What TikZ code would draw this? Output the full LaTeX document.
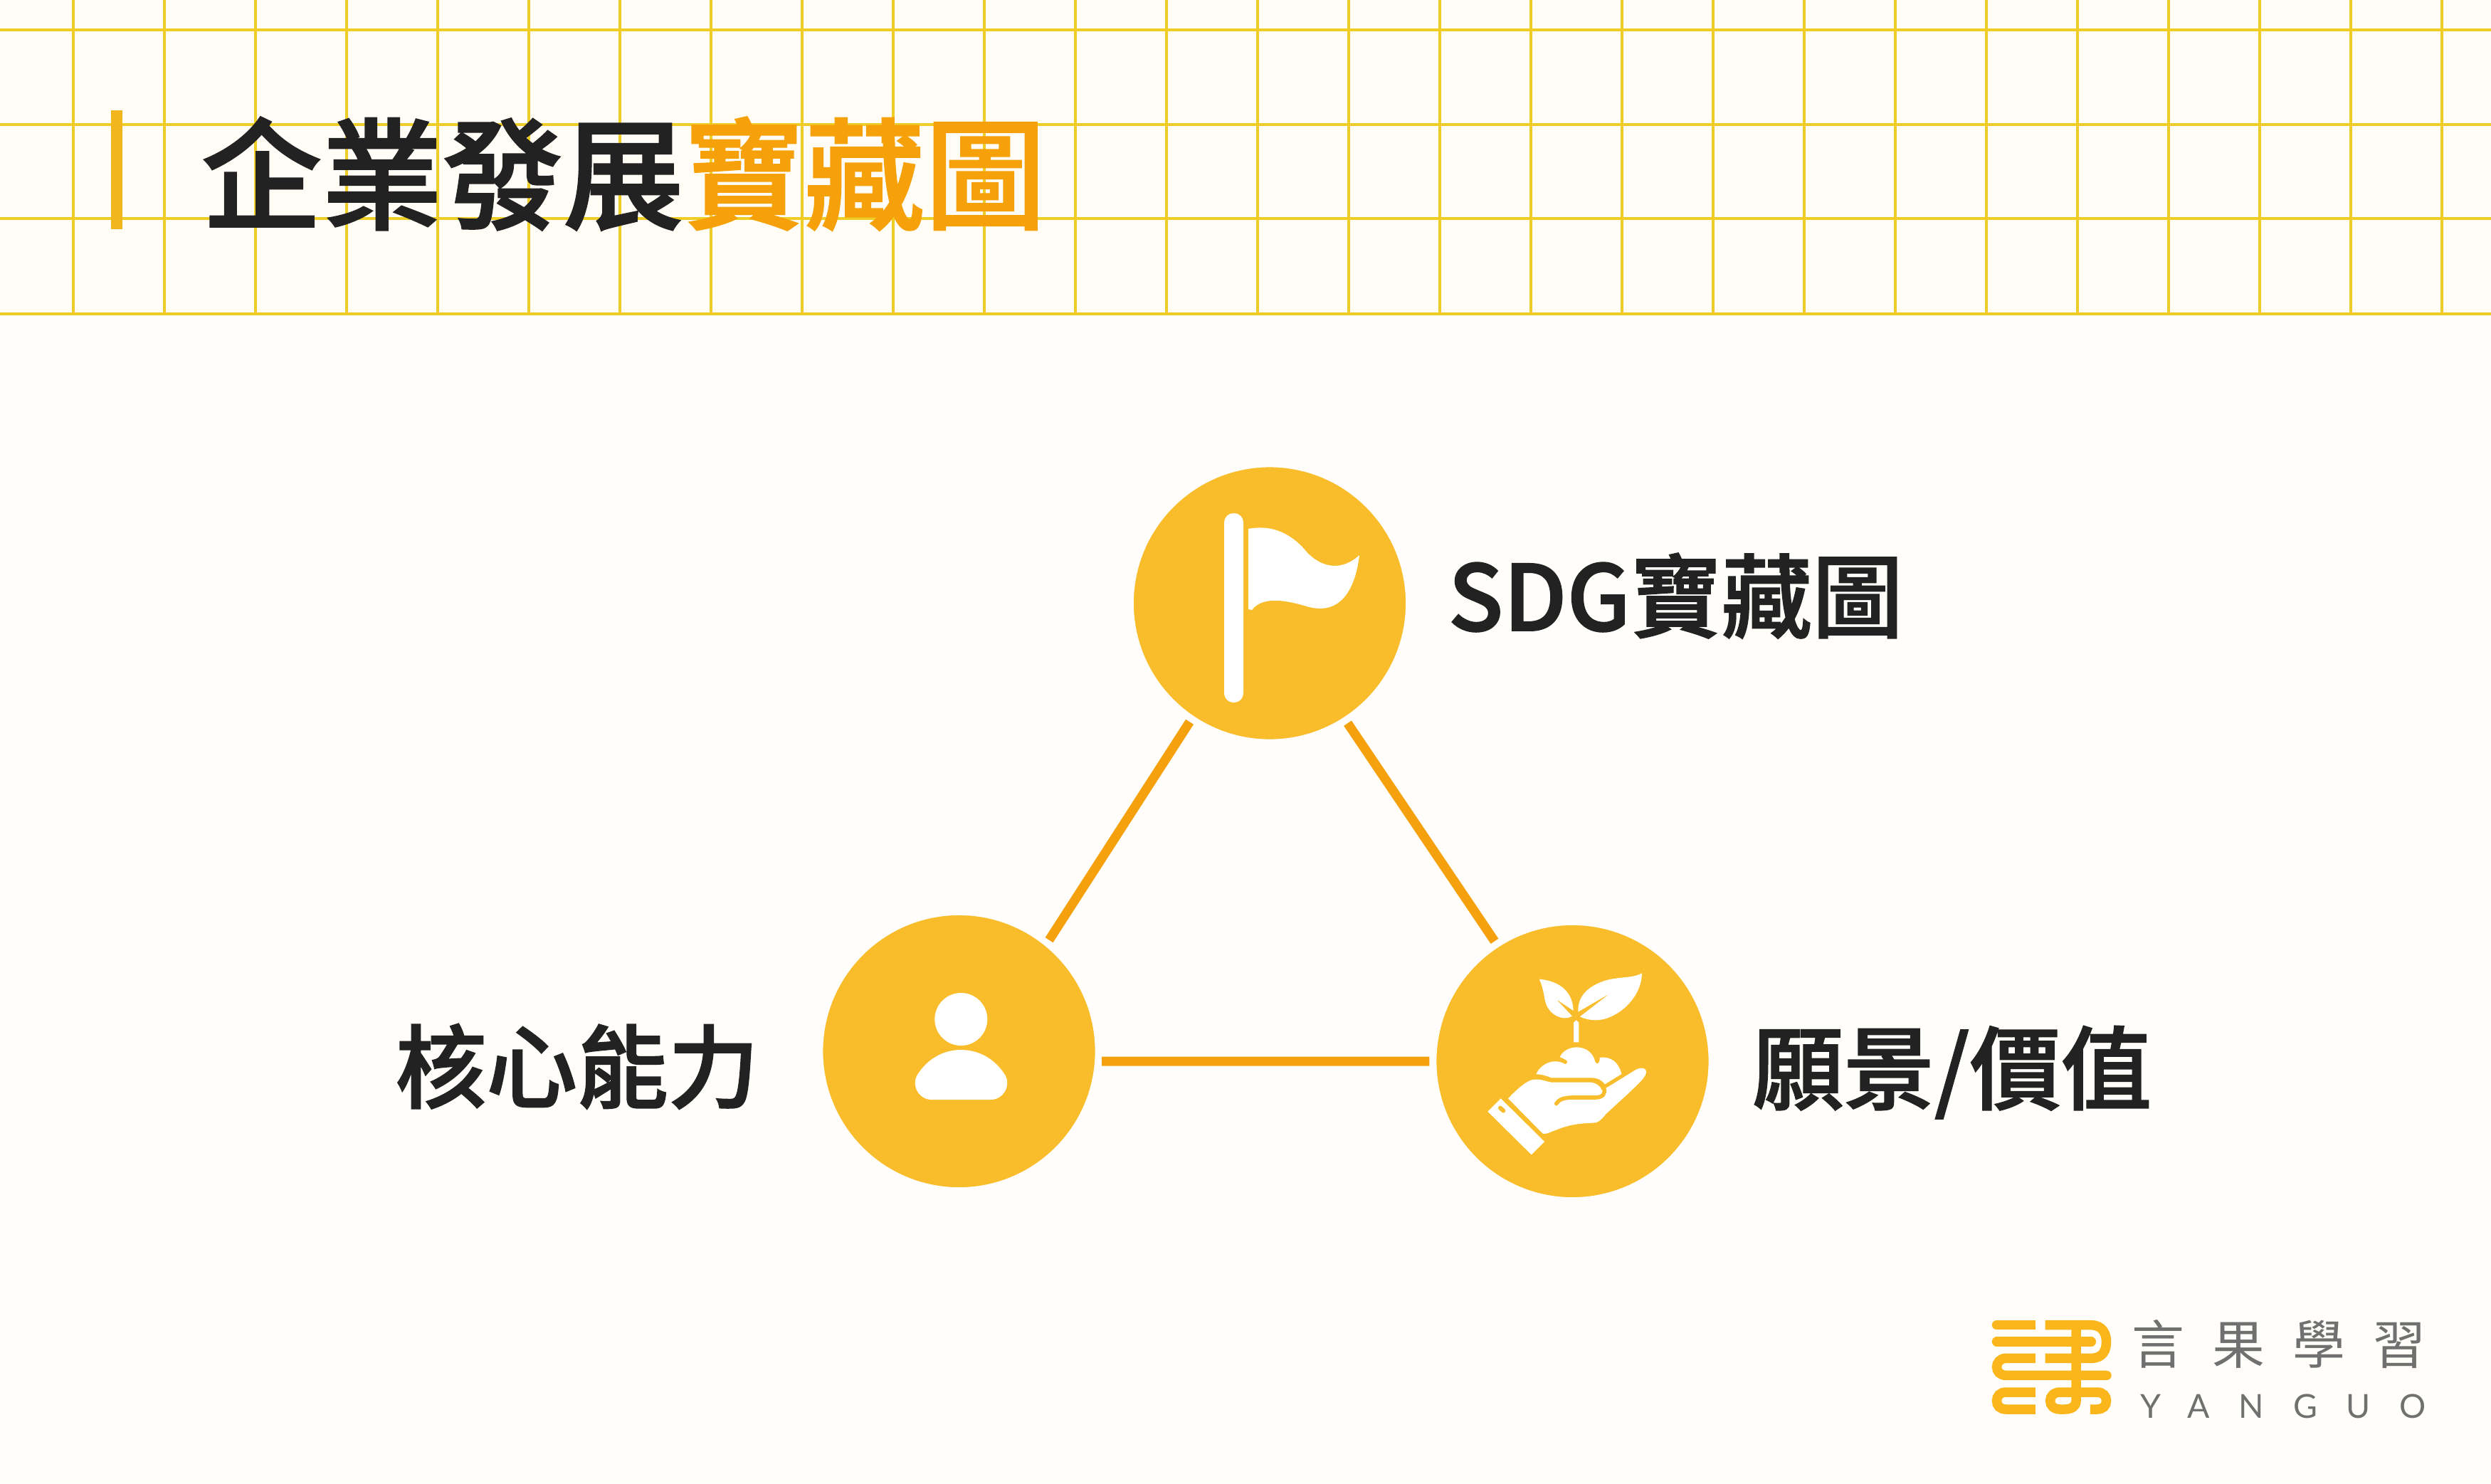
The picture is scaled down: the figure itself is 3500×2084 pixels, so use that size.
\documentclass[tikz,border=0pt]{standalone}
\usepackage{fontspec}
\setmainfont{Noto Sans CJK TC}
\newfontfamily\medfont[FakeBold=1.5]{Noto Sans CJK TC Medium}
\newfontfamily\logofont{Lato}
\definecolor{pagebg}{HTML}{FFFEFA}
\definecolor{headbg}{HTML}{FFFDF6}
\definecolor{gridline}{HTML}{F0CD25}
\definecolor{barcol}{HTML}{F3B51E}
\definecolor{titleorange}{HTML}{F6A00A}
\definecolor{inkcol}{HTML}{222222}
\definecolor{circcol}{HTML}{F9BD2B}
\definecolor{halocol}{HTML}{FFFEFC}
\definecolor{linkcol}{HTML}{F5A10D}
\definecolor{logoorange}{HTML}{FBB61C}
\definecolor{logogrey}{HTML}{707070}
\tikzset{
	bubble/.style={circle, fill=circcol, draw=halocol, line width=0.1cm, inner sep=0pt, minimum size=3.92cm},
	link/.style={draw=linkcol, line width=0.13cm},
	tag/.style={anchor=base west, inner sep=0pt, text=inkcol, font=\medfont\fontsize{36.3pt}{40pt}\selectfont},
	logostroke/.style={draw=logoorange, line width=0.135cm}
}
\begin{document}
\begin{tikzpicture}[x=0.01cm, y=-0.01cm]
	\useasboundingbox (0,0) rectangle (3500,2084);
	% Nền
	\fill[pagebg] (0,0) rectangle (3500,2084);
	\fill[headbg] (0,0) rectangle (3500,440);
	% Lưới
	\foreach \gx in {0,...,26}
		\draw[gridline, line width=0.04cm] ({103+128*\gx},0) -- ({103+128*\gx},441);
	\foreach \gy in {42,175,307,441}
		\draw[gridline, line width=0.04cm] (0,\gy) -- (3500,\gy);
	% Tiêu đề
	\fill[barcol] (156,155) rectangle (172,322);
	\node[anchor=base west, inner sep=0pt, text=inkcol, font=\medfont\fontsize{48.2pt}{50pt}\selectfont] (title) at (282,309) {企業發展\textcolor{titleorange}{寶藏圖}};
	% Ba vòng tròn
	\node[bubble] (flag) at (1784,847.5) {};
	\node[bubble] (person) at (1347.5,1477) {};
	\node[bubble] (seedling) at (2209.5,1491) {};
	% Đường nối
	\draw[link] (person.51.8) -- (flag.236.5);
	\draw[link] (flag.303.3) -- (seedling.123.6);
	\draw[link] (person.356.3) -- (seedling.180.3);
	% Nhãn
	\node[tag] (flagtag) at (2034,886) {SDG寶藏圖};
	\node[tag] (persontag) at (555,1547) {核心能力};
	\node[tag] (seedlingtag) at (2462,1549) {願景/價值};
	% Lá cờ
	\fill[white, rounded corners=0.13cm] (1720,721) rectangle (1747,987);
	\fill[white] (1754,743) .. controls (1785,737) and (1812,748) .. (1833,772) .. controls (1850,793) and (1880,807) .. (1910,780) .. controls (1906,815) and (1890,870) .. (1833,851) .. controls (1815,846) and (1775,835) .. (1759,857) -- (1754,856) -- cycle;
	% Người
	\fill[white] (1350.3,1432) circle[radius=37];
	\fill[white] (1309,1545) -- (1392,1545) .. controls (1410,1545) and (1421,1525) .. (1412,1510) .. controls (1398,1488) and (1376,1475) .. (1350,1475) .. controls (1325,1475) and (1303,1488) .. (1289,1510) .. controls (1280,1525) and (1291,1545) .. (1309,1545) -- cycle;
	% Bàn tay và mầm cây
	\begin{scope}[shift={(2000,1280)}, scale=0.3333]
		\fill[white] (488,287) .. controls (580,295) and (630,345) .. (632,420) -- (560,372) -- (627,443) .. controls (590,465) and (525,440) .. (512,375) .. controls (507,345) and (500,310) .. (488,287) -- cycle;
		\fill[white] (921,262) .. controls (920,350) and (850,420) .. (790,445) .. controls (750,465) and (700,465) .. (660,445) -- (785,348) -- (652,425) .. controls (650,360) and (690,320) .. (760,295) .. controls (820,275) and (880,285) .. (921,262) -- cycle;
		\fill[white] (633,553) -- (655,553) -- (655,470) -- (644,460) -- (633,470) -- cycle;
		\fill[white] (475,688) .. controls (490,650) and (545,615) .. (597,645) .. controls (607,645) and (610,632) .. (600,627) -- (575,615) .. controls (600,560) and (705,555) .. (724,635) .. controls (728,648) and (745,648) .. (743,618) .. controls (790,610) and (825,640) .. (835,687) -- (765,730) .. controls (745,705) and (725,703) .. (705,703) -- (540,703) .. controls (520,695) and (500,688) .. (475,688) -- cycle;
		\fill[white] (357,790) .. controls (400,745) and (440,710) .. (470,710) .. controls (500,708) and (520,720) .. (540,722) -- (705,722) .. controls (730,725) and (748,740) .. (752,755) -- (772,745) -- (890,672) .. controls (915,655) and (945,660) .. (938,685) .. controls (930,710) and (900,735) .. (770,855) .. controls (745,885) and (735,893) .. (715,893) .. controls (620,895) and (580,915) .. (540,930) .. controls (525,937) and (515,940) .. (503,938) -- cycle;
		\draw[circcol, line width=0.055cm, line cap=round] (560,812) .. controls (570,795) and (590,787) .. (625,786) -- (725,786) .. controls (755,786) and (770,770) .. (760,745);
		\fill[white] (326,790) -- (510,972) -- (455,1027) -- (271,845) -- cycle;
		\draw[circcol, line width=0.06cm, line cap=round] (324,830) -- (337,842);
	\end{scope}
	% Logo
	\begin{scope}[shift={(2760,1820)}, xscale=0.4337, yscale=0.3333]
		\draw[logostroke] (105,125) -- (230,125);
		\draw[logostroke] (262,125) -- (410,125) .. controls (450,125) and (460,165) .. (460,195) .. controls (460,230) and (450,265) .. (410,265) -- (262,265);
		\draw[logostroke] (105,195) -- (410,195);
		\draw[logostroke] (362,125) -- (362,445) .. controls (362,470) and (345,480) .. (325,480) -- (310,480) .. controls (290,480) and (278,465) .. (278,444) .. controls (278,425) and (290,408) .. (310,408) -- (430,408) .. controls (450,408) and (460,425) .. (460,444) .. controls (460,465) and (450,480) .. (430,480) -- (408,480);
		\draw[logostroke] (230,265) -- (135,265) .. controls (115,265) and (105,285) .. (105,301) .. controls (105,320) and (115,337) .. (135,337) -- (460,337);
		\draw[logostroke] (230,408) -- (135,408) .. controls (115,408) and (105,425) .. (105,444) .. controls (105,465) and (115,480) .. (135,480) -- (230,480);
		\foreach \capx/\capy in {105/125,105/195,410/195,460/337}
			\draw[logostroke, line cap=round] (\capx,\capy) -- ({\capx+1},\capy);
	\end{scope}
	\node[anchor=center, inner sep=0pt, text=logogrey, font=\fontsize{21pt}{24pt}\selectfont] (logoname) at (3202,1888) {\addfontfeature{LetterSpace=53}言果學習};
	\node[anchor=center, inner sep=0pt, text=logogrey, font=\logofont\fontsize{13.2pt}{16pt}\selectfont] (logolatin) at (3208,1976) {\addfontfeature{LetterSpace=88}YANGUO};
\end{tikzpicture}
\end{document}
